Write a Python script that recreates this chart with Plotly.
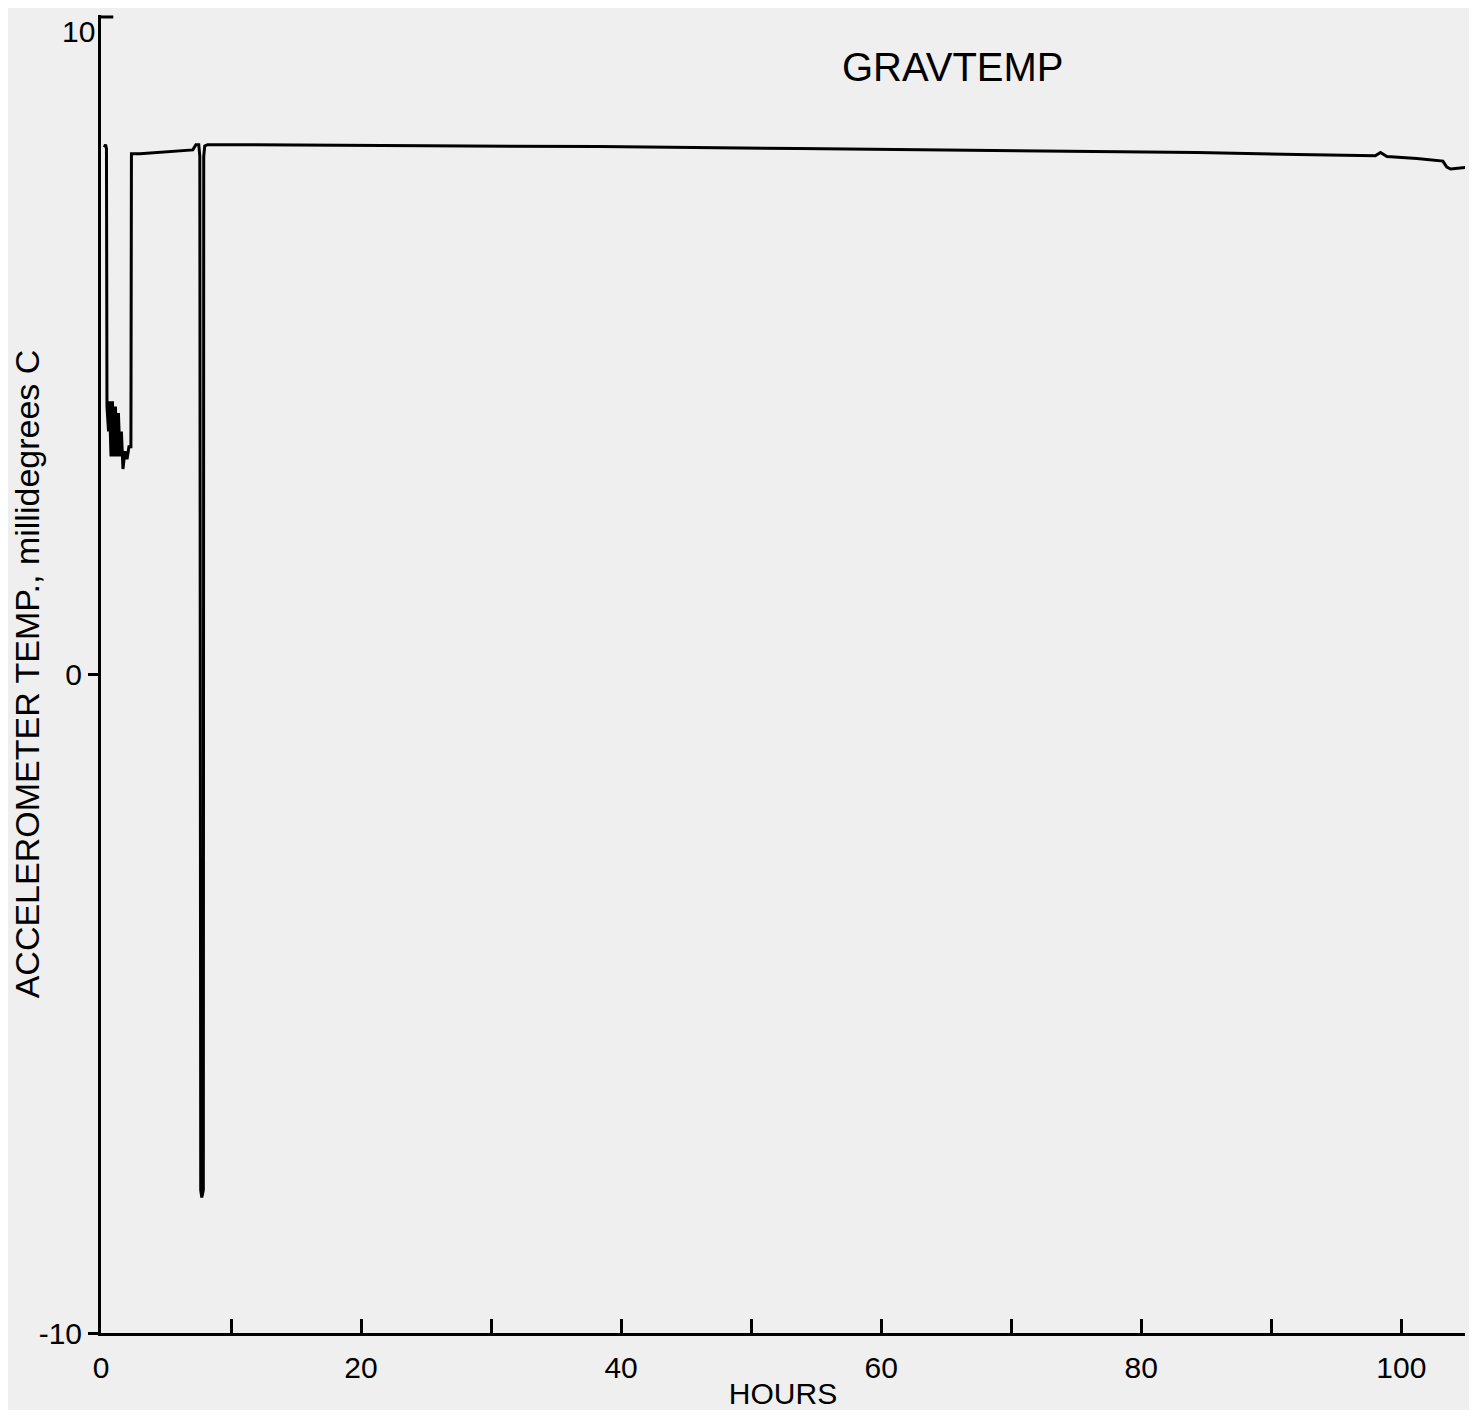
import plotly.graph_objects as go

# Data (hours, accelerometer temperature in millidegrees C)
hours = [0.25, 0.35, 0.42, 0.46, 0.58, 0.65, 0.77, 0.88, 1.00, 1.11, 1.23, 1.34, 1.46, 1.57,
         1.69, 1.84, 2.00, 2.15, 2.30, 2.34, 3.0, 4.5, 6.06, 7.06, 7.30, 7.52, 7.60, 7.67,
         7.75, 7.87, 7.90, 7.98, 8.2, 38.3, 53.6, 69.0, 84.3, 92.0, 98.0, 98.4, 98.9,
         101.2, 103.2, 103.5, 103.8, 105.2]
temp = [8.02, 8.06, 8.0, 4.08, 3.70, 4.16, 3.32, 4.16, 3.32, 4.08, 3.32, 3.98, 3.32, 3.70,
        3.13, 3.40, 3.28, 3.47, 3.47, 7.92, 7.92, 7.94, 7.97, 7.98, 8.06, 8.06, 7.88, -7.83,
        -7.94, -7.83, 7.88, 8.04, 8.06, 8.03, 8.00, 7.97, 7.94, 7.91, 7.89, 7.94, 7.88,
        7.85, 7.81, 7.72, 7.69, 7.72]

x_tickvals = [0, 10, 20, 30, 40, 50, 60, 70, 80, 90, 100]
x_ticktext = ["0", "", "20", "", "40", "", "60", "", "80", "", "100"]
y_tickvals = [-10, 0]
y_ticktext = ["-10", "0"]
y_top_val = 10
y_top_label = "10"

BG = "#efefef"
FONT = "Liberation Sans, Arial, sans-serif"

# page body has an 8px margin, so the figure is sized to fit inside the window
W, H = 1461, 1402
L, R, T, B = 93, 4, 7, 77
PH = H - T - B
PW = W - L - R

fig = go.Figure()
fig.add_trace(go.Scatter(x=hours, y=temp, mode="lines",
                         line=dict(color="black", width=3), showlegend=False))

fig.update_layout(
    width=W, height=H,
    margin=dict(l=L, r=R, t=T, b=B, autoexpand=False),
    paper_bgcolor=BG, plot_bgcolor=BG,
    font=dict(family=FONT, color="black", size=30),
)
fig.add_annotation(text="GRAVTEMP", x=(945 - L) / PW, y=(H - B - 59) / PH,
                   xref="paper", yref="paper", showarrow=False,
                   font=dict(size=40, family=FONT), xanchor="center", yanchor="middle")
# top tick label (sits just below the inward top tick, as in the reference)
fig.add_annotation(text=y_top_label, x=0, xref="x domain", y=y_top_val, yref="y",
                   xanchor="right", yanchor="top", xshift=-4, yshift=4, showarrow=False,
                   font=dict(size=30, family=FONT))
# inward-pointing tick at the top of the y axis
fig.add_shape(type="line", xref="x domain", yref="y", x0=0, x1=0.009,
              y0=y_top_val, y1=y_top_val, line=dict(color="black", width=3))

fig.update_xaxes(
    range=[0, 104.9], showgrid=False, zeroline=False, automargin=False,
    showline=True, linecolor="black", linewidth=3,
    tickmode="array", tickvals=x_tickvals, ticktext=x_ticktext,
    ticks="inside", ticklen=14, tickwidth=3, tickcolor="black",
    ticklabelstandoff=6, tickfont=dict(size=30, family=FONT),
    title=dict(text="HOURS", font=dict(size=30, family=FONT), standoff=0),
)
fig.update_yaxes(
    range=[-10, 10.03], showgrid=False, zeroline=False, automargin=False,
    showline=True, linecolor="black", linewidth=3,
    tickmode="array", tickvals=y_tickvals, ticktext=y_ticktext,
    ticks="outside", ticklen=10, tickwidth=3, tickcolor="black",
    tickfont=dict(size=30, family=FONT),
    title=dict(text="ACCELEROMETER TEMP., millidegrees C", font=dict(size=34, family=FONT),
               standoff=10),
)

fig.write_html("out.html")
